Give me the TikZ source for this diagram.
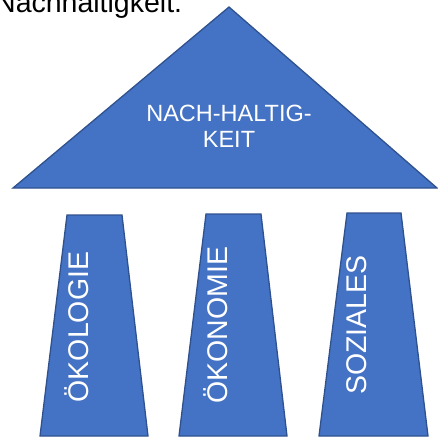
\documentclass[tikz,border=0pt]{standalone}
\usepackage{fontspec}
\setmainfont{Liberation Sans}
\definecolor{fillblue}{HTML}{4472C4}
\definecolor{edgeblue}{HTML}{2F528F}
\begin{document}
\begin{tikzpicture}[x=1pt,y=-1pt,
  shapebox/.style={fill=fillblue,draw=edgeblue,line width=1.3pt,line join=miter},
  pillartext/.style={text=white,font=\fontsize{28.5}{34}\selectfont,rotate=90,anchor=base,inner sep=0pt},
  rooftext/.style={text=white,font=\fontsize{23.5}{28}\selectfont,anchor=base,inner sep=0pt}]
\useasboundingbox (0,0) rectangle (438,437);
\node[anchor=base west,inner sep=0pt,font=\fontsize{28.5}{34}\selectfont] (title) at (-5,12) {Nachhaltigkeit.};
\draw[shapebox] (229,7) -- (437,188) -- (13,188) -- cycle;
\node[rooftext] (r1) at (229,121) {NACH-HALTIG-};
\node[rooftext] (r2) at (229,147) {KEIT};
\draw[shapebox] (67,215) -- (122,215) -- (148,436) -- (40,436) -- cycle;
\draw[shapebox] (206,214) -- (261,214) -- (287,436) -- (179,436) -- cycle;
\draw[shapebox] (347,213) -- (401,213) -- (428,436) -- (319,436) -- cycle;
\node[pillartext] (p1) at (88,327) {ÖKOLOGIE};
\node[pillartext] (p2) at (227,325) {ÖKONOMIE};
\node[pillartext] (p3) at (366,325) {SOZIALES};
\end{tikzpicture}
\end{document}
